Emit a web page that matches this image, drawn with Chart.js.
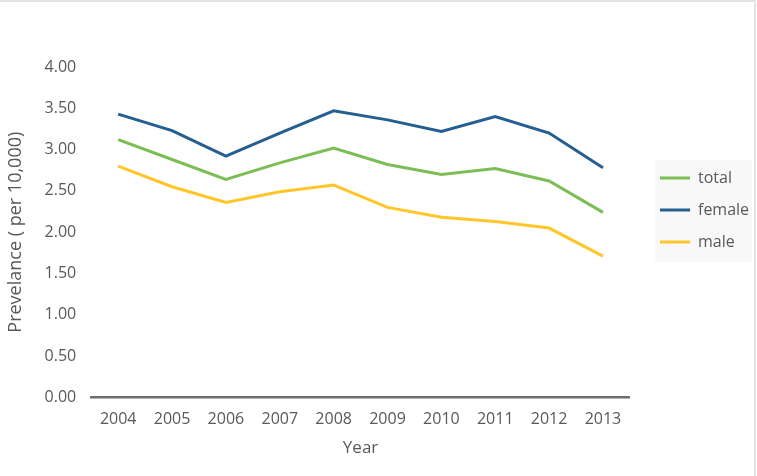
<!DOCTYPE html>
<html lang="en">
  <head>
    <meta charset="UTF-8" />
    <title>Prevelance by Year</title>
    <script src="https://cdn.jsdelivr.net/npm/chart.js"></script>
    <style>
      html, body { margin: 0; padding: 0; background: #fff; }
      #wrap { width: 757px; height: 476px; position: relative; }
    </style>
  </head>
  <body>
    <div id="wrap"><canvas id="prevChart"></canvas></div>

    <script>
      const years = ["2004", "2005", "2006", "2007", "2008", "2009", "2010", "2011", "2012", "2013"];
      const total = [3.12, 2.88, 2.64, 2.84, 3.02, 2.82, 2.70, 2.77, 2.62, 2.24];
      const female = [3.43, 3.23, 2.92, 3.20, 3.47, 3.36, 3.22, 3.40, 3.20, 2.78];
      const male = [2.80, 2.55, 2.36, 2.49, 2.57, 2.30, 2.18, 2.13, 2.05, 1.71];

      const textColor = "#595959";
      const fontFamily = "'Open Sans', sans-serif";

      // white page with the thin grey frame on top and right, plus legend panel
      const framePlugin = {
        id: "frame",
        afterLayout(chart) {
          const lg = chart.legend;
          lg.left = 644;
          lg.right = 752;
          lg.top = 130;
          lg.bottom = 290;
        },
        beforeDraw(chart) {
          const ctx = chart.ctx;
          ctx.save();
          ctx.fillStyle = "#fff";
          ctx.fillRect(0, 0, chart.width, chart.height);
          ctx.fillStyle = "#f8f8f8";
          ctx.fillRect(655, 160, 97, 102);
          ctx.strokeStyle = "#e3e3e3";
          ctx.lineWidth = 2;
          ctx.beginPath();
          ctx.moveTo(0, 1);
          ctx.lineTo(755, 1);
          ctx.lineTo(755, chart.height);
          ctx.stroke();
          ctx.restore();
        },
      };

      new Chart(document.getElementById("prevChart"), {
        type: "line",
        data: {
          labels: years,
          datasets: [
            { label: "total", data: total, borderColor: "#7cbd55", backgroundColor: "#7cbd55", borderWidth: 3 },
            { label: "female", data: female, borderColor: "#255e91", backgroundColor: "#255e91", borderWidth: 3 },
            { label: "male", data: male, borderColor: "#ffc62a", backgroundColor: "#ffc62a", borderWidth: 3 },
          ],
        },
        options: {
          responsive: true,
          maintainAspectRatio: false,
          animation: false,
          elements: {
            line: { tension: 0 },
            point: { radius: 0, hoverRadius: 0 },
          },
          layout: { padding: { top: 67, right: 12, bottom: 18, left: 0 } },
          plugins: {
            tooltip: { enabled: false },
            legend: {
              position: "right",
              align: "center",
              labels: {
                usePointStyle: true,
                pointStyle: "line",
                pointStyleWidth: 30,
                color: textColor,
                padding: 16,
                font: { family: fontFamily, size: 16 },
              },
            },
          },
          scales: {
            x: {
              offset: true,
              grid: { display: false },
              border: { display: true, color: "#6e6e6e", width: 2.5 },
              ticks: { color: textColor, padding: 4, font: { family: fontFamily, size: 16 } },
              title: {
                display: true,
                text: "Year",
                color: textColor,
                padding: { top: 5, bottom: 0 },
                font: { family: fontFamily, size: 17 },
              },
            },
            y: {
              min: 0,
              max: 4,
              grid: { display: false },
              border: { display: false },
              ticks: {
                stepSize: 0.5,
                color: textColor,
                padding: 7,
                font: { family: fontFamily, size: 16 },
                callback: (v) => Number(v).toFixed(2),
              },
              title: {
                display: true,
                text: "Prevelance ( per 10,000)",
                color: textColor,
                padding: { top: 5, bottom: 11 },
                font: { family: fontFamily, size: 18 },
              },
            },
          },
        },
        plugins: [framePlugin],
      });
    </script>
  </body>
</html>
